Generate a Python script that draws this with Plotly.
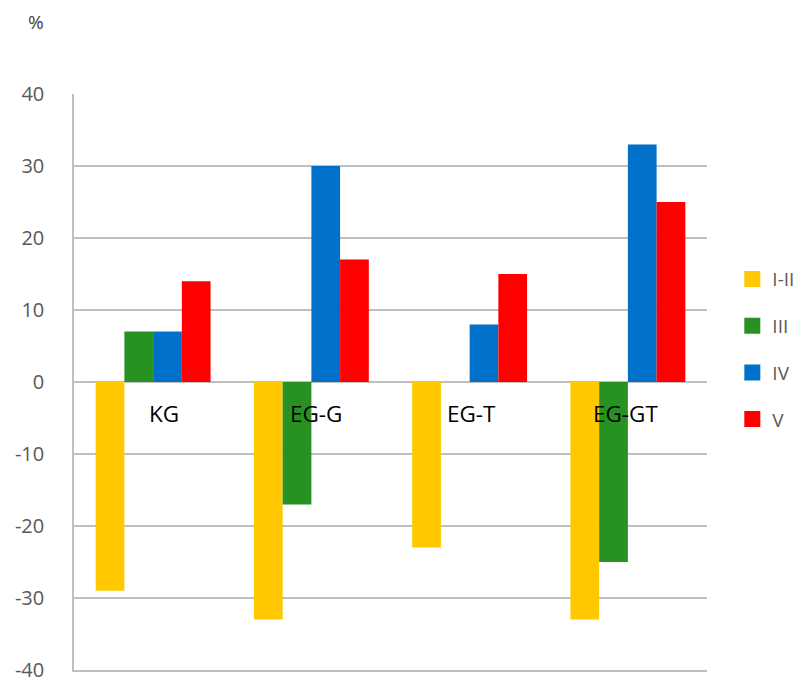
import plotly.graph_objects as go

categories = ["KG", "EG-G", "EG-T", "EG-GT"]
series_names = ["I-II", "III", "IV", "V"]
vals_I_II = [-29, -33, -23, -33]
vals_III = [7, -17, 0, -25]
vals_IV = [7, 30, 8, 33]
vals_V = [14, 17, 15, 25]
y_ticks = [-40, -30, -20, -10, 0, 10, 20, 30, 40]
y_tick_text = ["-40", "-30", "-20", "-10", "0", "10", "20", "30", "40"]

colors = ["#FFC800", "#279222", "#0070C8", "#FF0000"]
series_vals = [vals_I_II, vals_III, vals_IV, vals_V]

fig = go.Figure()
for name, vals, col in zip(series_names, series_vals, colors):
    fig.add_trace(go.Bar(x=categories, y=vals, name=name, marker_color=col,
                         marker_line_width=0, showlegend=False))
for name, col in zip(series_names, colors):
    fig.add_trace(go.Scatter(x=[None], y=[None], mode="markers", name=name,
                             legendgroup=name,
                             marker=dict(symbol="square", size=16, color=col)))

label_shift = [11, 5, 2, -2]
for cat, xs in zip(categories, label_shift):
    fig.add_annotation(x=cat, y=0, xref="x", yref="y", text=cat, showarrow=False,
                       xshift=xs, yshift=-31, font=dict(family="Open Sans", size=22.5, color="#000000"))

fig.add_annotation(xref="paper", yref="paper", x=-0.06, y=1.125, xanchor="center",
                   yanchor="middle", text="%", showarrow=False,
                   font=dict(family="Open Sans", size=19, color="#404040"))

fig.update_layout(
    width=803, height=683,
    margin=dict(l=74, r=96, t=94, b=13, autoexpand=False),
    plot_bgcolor="white", paper_bgcolor="white",
    barmode="group", bargap=0.274, bargroupgap=0,
    showlegend=True,
    legend=dict(x=1.04, xanchor="left", y=0.557, yanchor="middle",
                font=dict(family="Open Sans", size=19, color="#595959"),
                tracegroupgap=19, itemwidth=30, bgcolor="rgba(0,0,0,0)"),
    font=dict(family="Open Sans"),
)

fig.update_xaxes(showticklabels=False, showgrid=False, zeroline=False, showline=True,
                 linecolor="#BFBFBF", linewidth=1.5, ticks="", automargin=False)
fig.update_yaxes(range=[-40, 40], tickvals=y_ticks, ticktext=y_tick_text, showgrid=True,
                 gridcolor="#BFBFBF", automargin=False,
                 gridwidth=1.5, zeroline=False, showline=True, linecolor="#BFBFBF",
                 linewidth=1.5, ticks="", ticklabelstandoff=24,
                 tickfont=dict(family="Open Sans", size=20, color="#595959"))

fig.write_html("out.html")
